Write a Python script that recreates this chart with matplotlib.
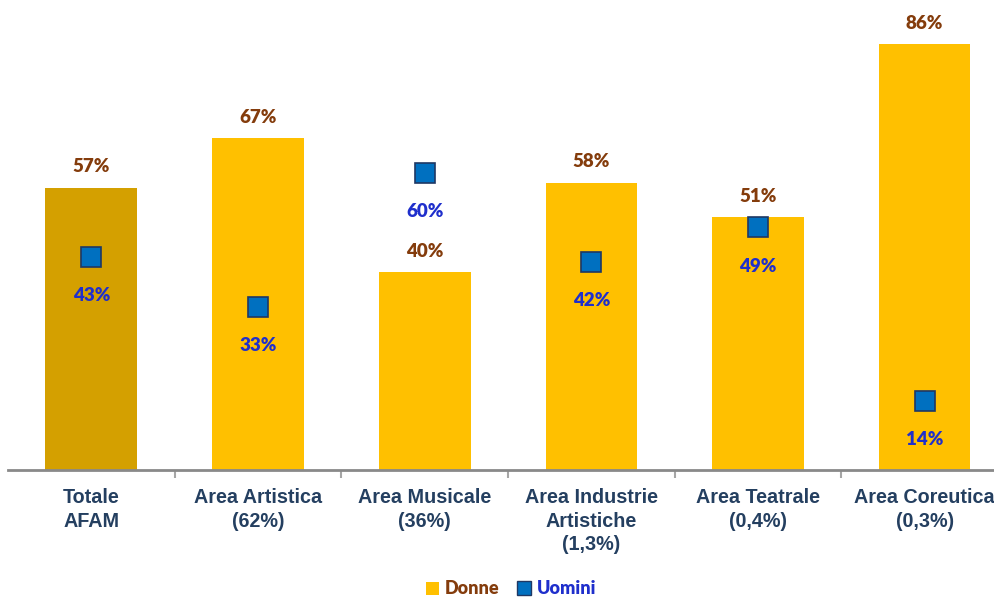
import matplotlib.pyplot as plt
import numpy as np
from matplotlib.lines import Line2D
from matplotlib.patches import Patch

categorie = ["Totale\nAFAM", "Area Artistica\n(62%)", "Area Musicale\n(36%)",
             "Area Industrie\nArtistiche\n(1,3%)", "Area Teatrale\n(0,4%)",
             "Area Coreutica\n(0,3%)"]
donne = [57, 67, 40, 58, 51, 86]
uomini = [43, 33, 60, 42, 49, 14]

giallo = "#FFC000"
oro = "#D4A000"
blu = "#0070C0"
marrone = "#843C0C"
blu_testo = "#1F2FCC"
navy = "#243F60"

fig = plt.figure(figsize=(9.94, 5.97), dpi=100)
ax = fig.add_axes([8 / 994, 127 / 597, 1000 / 994, 470 / 597])

x = np.arange(len(categorie))
colori = [oro] + [giallo] * (len(categorie) - 1)
ax.bar(x, donne, width=0.55, color=colori, zorder=2)
ax.plot(x, uomini, linestyle="none", marker="s", markersize=14.5,
        markerfacecolor=blu, markeredgecolor="#1F3864", markeredgewidth=1.2, zorder=3)

for xi, d, u in zip(x, donne, uomini):
    ax.annotate(f"{d}%", (xi, d), xytext=(0, 15), textcoords="offset points",
                ha="center", va="center", color=marrone, fontsize=13.5,
                fontweight="heavy", family="Lato")
    ax.annotate(f"{u}%", (xi, u), xytext=(0, -28), textcoords="offset points",
                ha="center", va="center", color=blu_testo, fontsize=13.5,
                fontweight="heavy", family="Lato")

ax.set_xlim(-0.5, len(categorie) - 0.5)
ax.set_ylim(0, 94.9)
ax.set_yticks([])
for s in ["top", "right", "left"]:
    ax.spines[s].set_visible(False)
ax.spines["bottom"].set_color("#898989")
ax.spines["bottom"].set_linewidth(2)

# tacche tra le categorie
ax.set_xticks(np.arange(1, len(categorie) + 1) - 0.5)
ax.set_xticklabels([])
ax.tick_params(axis="x", length=6, width=1.5, color="#A6A6A6", direction="out")
for xi, c in zip(x, categorie):
    ax.text(xi, -3.6, c, ha="center", va="top", fontsize=14.2, fontweight="bold",
            color=navy, family="Liberation Sans", linespacing=1.32)

handles = [Patch(facecolor=giallo, edgecolor="none"),
           Line2D([], [], linestyle="none", marker="s", markersize=10,
                  markerfacecolor=blu, markeredgecolor="#1F3864")]
leg = fig.legend(handles, ["Donne", "Uomini"], loc="center", bbox_to_anchor=(511 / 994, 1 - 589 / 597),
                 ncol=2, frameon=False, handlelength=0.7, handletextpad=0.35,
                 columnspacing=1.0, prop={"family": "Lato", "weight": "heavy", "size": 13})
leg.get_texts()[0].set_color(marrone)
leg.get_texts()[1].set_color(blu_testo)

fig.savefig("out.png", dpi=100)
